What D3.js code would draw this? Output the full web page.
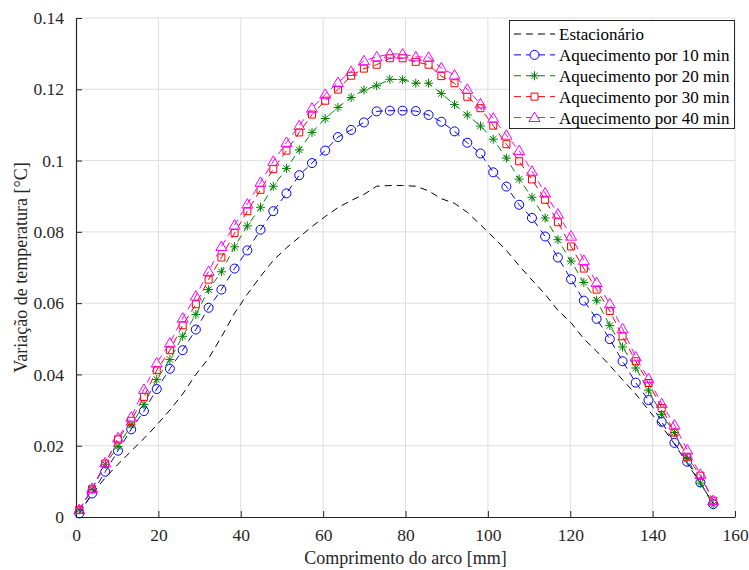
<!DOCTYPE html>
<html>
<head>
<meta charset="utf-8">
<script src="https://cdn.jsdelivr.net/npm/d3@7"></script>
<style>
  body { margin: 0; background: #fff; }
  text { font-family: "Liberation Serif", "Times New Roman", serif; }
</style>
</head>
<body>
<div id="chart"></div>
<script>
// arc positions (mm)
const arcLength = [0.8, 3.9, 7.1, 10.2, 13.4, 16.5, 19.6, 22.8, 25.9, 29.1,
  32.2, 35.3, 38.5, 41.6, 44.8, 47.9, 51.1, 54.2, 57.3, 60.5,
  63.6, 66.8, 69.9, 73.0, 76.2, 79.3, 82.5, 85.6, 88.7, 91.9,
  95.0, 98.2, 101.3, 104.5, 107.6, 110.7, 113.9, 117.0, 120.2, 123.3,
  126.4, 129.6, 132.7, 135.9, 139.0, 142.2, 145.3, 148.4, 151.6, 154.7];

const stationary = [0.001, 0.0065, 0.011, 0.0148, 0.0185, 0.022, 0.0258, 0.030, 0.0345, 0.040,
  0.0445, 0.0505, 0.0572, 0.0625, 0.0675, 0.072, 0.0755, 0.0785, 0.0815, 0.0843,
  0.0868, 0.0888, 0.0905, 0.0928, 0.093, 0.093, 0.0928, 0.0915, 0.0893, 0.088,
  0.0855, 0.082, 0.0785, 0.0748, 0.0705, 0.0665, 0.0625, 0.058, 0.0545, 0.050,
  0.0465, 0.0425, 0.0385, 0.0345, 0.030, 0.0255, 0.0205, 0.015, 0.0095, 0.0038];

const heat10 = [0.001, 0.0066, 0.0127, 0.0186, 0.0246, 0.0297, 0.0359, 0.0416, 0.0468, 0.0526,
  0.0587, 0.0638, 0.0697, 0.0748, 0.0806, 0.0858, 0.0908, 0.0959, 0.0993, 0.1028,
  0.1066, 0.1086, 0.1107, 0.1138, 0.114, 0.114, 0.1139, 0.1128, 0.1109, 0.1082,
  0.105, 0.102, 0.0967, 0.0927, 0.0876, 0.0839, 0.0787, 0.0728, 0.0667, 0.0607,
  0.0556, 0.0499, 0.0437, 0.0377, 0.0328, 0.0267, 0.0208, 0.0155, 0.0097, 0.0036];

const heat20 = [0.002, 0.0078, 0.0148, 0.0198, 0.0258, 0.0316, 0.0386, 0.0442, 0.0507, 0.0568,
  0.0638, 0.0688, 0.0758, 0.0817, 0.0869, 0.0928, 0.0978, 0.103, 0.1079, 0.1118,
  0.1149, 0.1177, 0.1198, 0.121, 0.1228, 0.1227, 0.1217, 0.1217, 0.1188, 0.1157,
  0.1128, 0.1097, 0.106, 0.1007, 0.0948, 0.0897, 0.0839, 0.0778, 0.0718, 0.0658,
  0.0608, 0.0537, 0.0477, 0.0418, 0.0356, 0.0288, 0.0237, 0.0164, 0.0095, 0.0034];

const heat30 = [0.002, 0.0078, 0.015, 0.0218, 0.027, 0.0337, 0.0412, 0.0468, 0.0538, 0.0597,
  0.0666, 0.0728, 0.0797, 0.0858, 0.0918, 0.0976, 0.1028, 0.1079, 0.1129, 0.1168,
  0.1199, 0.1238, 0.1258, 0.1269, 0.1287, 0.1287, 0.1277, 0.1269, 0.1237, 0.1217,
  0.1179, 0.1147, 0.1098, 0.1046, 0.0998, 0.0947, 0.089, 0.0827, 0.0759, 0.0697,
  0.0638, 0.0578, 0.0507, 0.0437, 0.0376, 0.0306, 0.0237, 0.0169, 0.0116, 0.0046];

const heat40 = [0.0021, 0.008, 0.0152, 0.0222, 0.028, 0.0358, 0.0432, 0.0488, 0.0558, 0.062,
  0.0689, 0.0759, 0.0819, 0.0878, 0.0939, 0.0998, 0.1051, 0.1098, 0.1147, 0.1186,
  0.1219, 0.125, 0.128, 0.1291, 0.1299, 0.1299, 0.1291, 0.129, 0.126, 0.124,
  0.12, 0.1159, 0.1119, 0.1071, 0.1028, 0.097, 0.0909, 0.085, 0.0788, 0.072,
  0.0658, 0.0598, 0.0528, 0.0449, 0.0388, 0.0318, 0.0258, 0.0188, 0.012, 0.0046];

const seriesNames = ['Estacionário', 'Aquecimento por 10 min', 'Aquecimento por 20 min',
  'Aquecimento por 30 min', 'Aquecimento por 40 min'];
const xTicks = [0, 20, 40, 60, 80, 100, 120, 140, 160];
const yTicks = [0, 0.02, 0.04, 0.06, 0.08, 0.1, 0.12, 0.14];

const W = 749, H = 570;
const mLeft = 76, mRight = 735, mTop = 18, mBottom = 517;
const axisColor = '#262626';

const series = [
  { name: seriesNames[0], values: stationary, color: '#000000', marker: null },
  { name: seriesNames[1], values: heat10, color: '#0000ff', marker: 'circle' },
  { name: seriesNames[2], values: heat20, color: '#008000', marker: 'star' },
  { name: seriesNames[3], values: heat30, color: '#ff0000', marker: 'square' },
  { name: seriesNames[4], values: heat40, color: '#ff00ff', marker: 'triangle' }
];

const x = d3.scaleLinear().domain([0, 160]).range([mLeft, mRight]);
const y = d3.scaleLinear().domain([0, 0.14]).range([mBottom, mTop]);

const svg = d3.select('#chart').append('svg')
  .attr('width', W).attr('height', H);

// grid
svg.append('g').selectAll('line').data(xTicks.slice(1)).enter().append('line')
  .attr('x1', d => x(d)).attr('x2', d => x(d))
  .attr('y1', mBottom).attr('y2', mTop)
  .attr('stroke', '#dfdfdf').attr('stroke-width', 1);
svg.append('g').selectAll('line').data(yTicks.slice(1)).enter().append('line')
  .attr('x1', mLeft).attr('x2', mRight)
  .attr('y1', d => y(d)).attr('y2', d => y(d))
  .attr('stroke', '#dfdfdf').attr('stroke-width', 1);

// axes, ticks pointing inward
const xAxis = d3.axisBottom(x).tickValues(xTicks).tickSizeInner(-6).tickSizeOuter(0)
  .tickPadding(12).tickFormat(d => d);
const yAxis = d3.axisLeft(y).tickValues(yTicks).tickSizeInner(-6).tickSizeOuter(0)
  .tickPadding(12).tickFormat(d => String(+d.toFixed(2)));

const gx = svg.append('g').attr('transform', `translate(0,${mBottom})`).call(xAxis);
const gy = svg.append('g').attr('transform', `translate(${mLeft},0)`).call(yAxis);
[gx, gy].forEach(g => {
  g.select('.domain').attr('stroke', axisColor).attr('stroke-width', 1.2);
  g.selectAll('.tick line').attr('stroke', axisColor);
  g.selectAll('.tick text').attr('fill', axisColor)
    .style('font-family', '"Liberation Serif", serif').style('font-size', '17.5px');
});

svg.append('text')
  .attr('x', (mLeft + mRight) / 2).attr('y', 564)
  .attr('text-anchor', 'middle').attr('fill', axisColor)
  .style('font-size', '18px')
  .text('Comprimento do arco [mm]');
svg.append('text')
  .attr('transform', `translate(27,${(mTop + mBottom) / 2}) rotate(-90)`)
  .attr('text-anchor', 'middle').attr('fill', axisColor)
  .style('font-size', '18px')
  .text('Variação de temperatura [°C]');

function markerPath(type) {
  if (type === 'circle') return d3.symbol(d3.symbolCircle, 64)();
  if (type === 'square') return 'M-3.5,-3.5H3.5V3.5H-3.5Z';
  if (type === 'triangle') return 'M0,-5.5L5.5,4L-5.5,4Z';
  if (type === 'star') return 'M-4.5,0H4.5M0,-4.5V4.5M-3.2,-3.2L3.2,3.2M-3.2,3.2L3.2,-3.2';
  return '';
}

const line = d3.line().x(d => x(d[0])).y(d => y(d[1]));

series.forEach(s => {
  const pts = arcLength.map((a, i) => [a, s.values[i]]);
  const g = svg.append('g');
  g.append('path')
    .attr('d', line(pts))
    .attr('fill', 'none')
    .attr('stroke', s.color)
    .attr('stroke-width', 1)
    .attr('stroke-dasharray', '7,5');
  if (s.marker) {
    g.selectAll('path.mk').data(pts).enter().append('path')
      .attr('class', 'mk')
      .attr('d', markerPath(s.marker))
      .attr('transform', d => `translate(${x(d[0])},${y(d[1])})`)
      .attr('fill', 'none')
      .attr('stroke', s.color)
      .attr('stroke-width', 1);
  }
});

// legend
const lg = svg.append('g');
lg.append('rect')
  .attr('x', 509.5).attr('y', 20.5).attr('width', 225).attr('height', 108)
  .attr('fill', '#fff').attr('stroke', axisColor).attr('stroke-width', 1);
const rowY = d3.scalePoint().domain(seriesNames).range([34, 117.5]);
series.forEach(s => {
  const cy = rowY(s.name);
  lg.append('line')
    .attr('x1', 514).attr('x2', 555).attr('y1', cy).attr('y2', cy)
    .attr('stroke', s.color).attr('stroke-width', 1)
    .attr('stroke-dasharray', '7,5');
  if (s.marker) {
    lg.append('path')
      .attr('d', markerPath(s.marker))
      .attr('transform', `translate(534.5,${cy})`)
      .attr('fill', '#fff').attr('stroke', s.color).attr('stroke-width', 1);
  }
  lg.append('text')
    .attr('x', 559).attr('y', cy + 6)
    .attr('fill', '#000')
    .style('font-size', '17px')
    .text(s.name);
});
</script>
</body>
</html>
